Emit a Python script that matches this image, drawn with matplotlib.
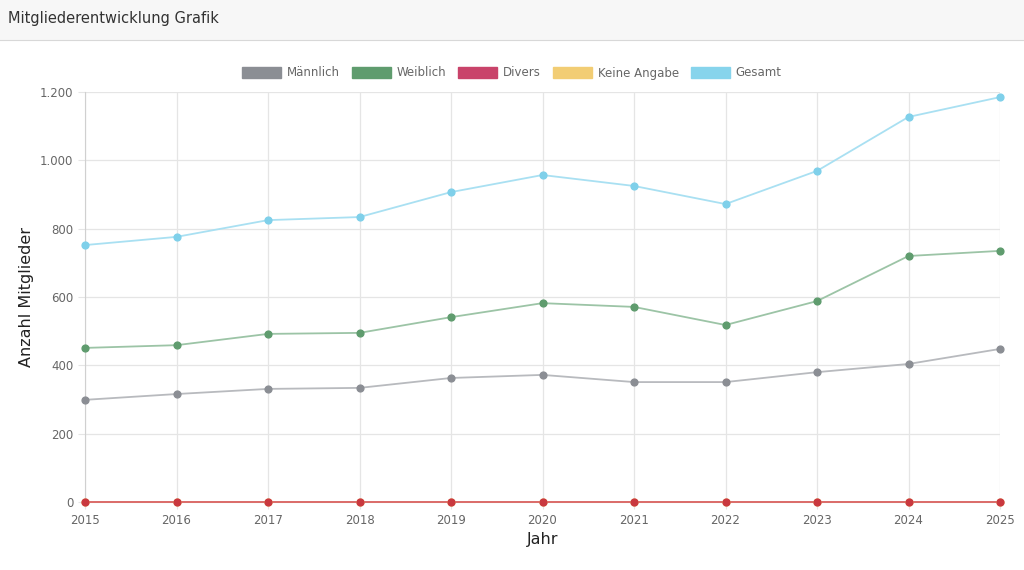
import matplotlib.pyplot as plt
from matplotlib.patches import Patch

years = [2015, 2016, 2017, 2018, 2019, 2020, 2021, 2022, 2023, 2024, 2025]
maennlich = [299, 316, 331, 334, 363, 372, 351, 351, 380, 404, 448]
weiblich = [451, 459, 492, 495, 541, 582, 571, 518, 588, 720, 735]
divers = [0, 0, 0, 0, 0, 0, 0, 0, 0, 0, 0]
keine_angabe = [0, 0, 0, 0, 0, 0, 0, 0, 0, 0, 0]
gesamt = [752, 776, 825, 834, 907, 957, 925, 872, 969, 1127, 1185]
yticks = [0, 200, 400, 600, 800, 1000, 1200]
ytick_labels = ["0", "200", "400", "600", "800", "1.000", "1.200"]

series = [
    ("Männlich", maennlich, "#8b8e94", "#b8babe"),
    ("Weiblich", weiblich, "#5f9c6e", "#9cc4a6"),
    ("Keine Angabe", keine_angabe, "#f2cd74", "#f2cd74"),
    ("Divers", divers, "#c9383f", "#d9646a"),
    ("Gesamt", gesamt, "#7fd0ea", "#a9e0f2"),
]

fig = plt.figure(figsize=(10.24, 5.7), dpi=100)

# Kopfzeile
head = fig.add_axes([0, 1 - 40 / 570, 1, 40 / 570])
head.set_facecolor("#f7f7f7")
head.set_xticks([])
head.set_yticks([])
for s in ["top", "left", "right"]:
    head.spines[s].set_visible(False)
head.spines["bottom"].set_color("#d8d8d8")
fig.text(8 / 1024, 1 - 18 / 570, "Mitgliederentwicklung Grafik", fontsize=10.5,
         color="#333333", va="center", ha="left")

ax = fig.add_axes([85 / 1024, 1 - 502 / 570, 915 / 1024, 410 / 570])
for name, vals, mc, lc in series:
    ax.plot(years, vals, color=lc, linewidth=1.3, zorder=4, clip_on=False)
    ax.scatter(years, vals, color=mc, s=24, zorder=5, clip_on=False)

ax.set_xlim(2015, 2025)
ax.set_ylim(0, 1200)
ax.set_xticks(years)
ax.set_yticks(yticks)
ax.set_yticklabels(ytick_labels)
ax.tick_params(labelsize=8.5, colors="#666666", length=5, color="#e5e5e5")
ax.grid(True, color="#e5e5e5", linewidth=0.9)
ax.set_axisbelow(True)
for s in ["top", "right"]:
    ax.spines[s].set_visible(False)
for s in ["left", "bottom"]:
    ax.spines[s].set_color("#d0d0d0")
    ax.spines[s].set_zorder(1)
ax.set_xlabel("Jahr", fontsize=11.5, color="#222222")
ax.set_ylabel("Anzahl Mitglieder", fontsize=11.5, color="#222222")

legend_items = [
    ("Männlich", "#8b8e94"),
    ("Weiblich", "#5f9c6e"),
    ("Divers", "#c9436a"),
    ("Keine Angabe", "#f2cd74"),
    ("Gesamt", "#87d4ec"),
]
handles = [Patch(facecolor=c, edgecolor=c, label=n) for n, c in legend_items]
fig.legend(handles=handles, loc="center", bbox_to_anchor=(0.5, 1 - 73 / 570),
           ncol=5, frameon=False, fontsize=8.5, handlelength=3.3, handleheight=1.1,
           columnspacing=1.0, handletextpad=0.5, labelcolor="#666666")

fig.savefig("out.png", dpi=100)
